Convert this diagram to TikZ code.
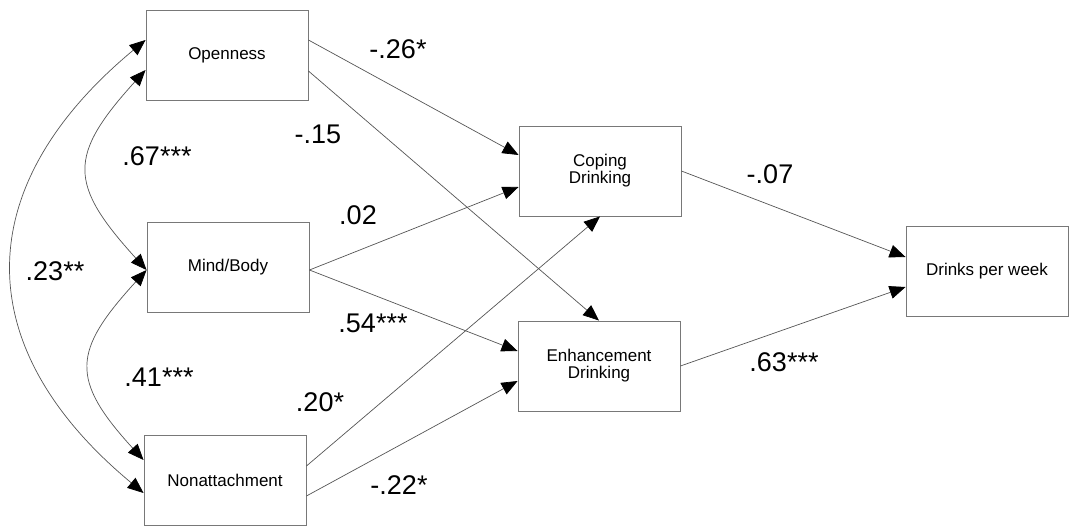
\documentclass[tikz,border=0pt]{standalone}
\usepackage{fontspec}
\setmainfont{Liberation Sans}
\usetikzlibrary{arrows.meta}
\definecolor{linec}{RGB}{85,85,85}
\definecolor{boxc}{RGB}{120,120,120}
\tikzset{
  varbox/.style={draw=boxc, line width=0.9pt, minimum width=162pt, minimum height=90pt, inner sep=0pt, align=center, font=\fontsize{17}{17}\selectfont},
  path/.style={draw=linec, line width=0.7pt, -{Triangle[length=16pt,width=13pt,color=black]}},
  cov/.style={draw=linec, line width=0.7pt, {Triangle[length=16pt,width=13pt,color=black]}-{Triangle[length=16pt,width=13pt,color=black]}},
  coef/.style={inner sep=0pt, font=\fontsize{27}{27}\selectfont}
}
\begin{document}
\begin{tikzpicture}[x=1pt,y=-1pt]
\useasboundingbox (0,0) rectangle (1069,527);
\node[varbox] (open) at (227,55) {Openness};
\node[varbox] (mind) at (228,267) {Mind/Body};
\node[varbox] (non) at (225,480) {Nonattachment};
\node[varbox] (cop) at (600,171) {Coping\\Drinking};
\node[varbox] (enh) at (599,366) {Enhancement\\Drinking};
\node[varbox] (drk) at (987,271) {Drinks per week};

\draw[path] ([yshift=15pt]open.east) -- ([yshift=16pt]cop.west);
\draw[path] ([yshift=-16pt]open.east) -- (enh.north);
\draw[path] ([yshift=-3pt]mind.east) -- ([yshift=-16pt]cop.west);
\draw[path] ([yshift=-3pt]mind.east) -- ([yshift=15pt]enh.west);
\draw[path] ([yshift=14pt]non.east) -- (cop.south);
\draw[path] ([yshift=-16pt]non.east) -- ([yshift=-15pt]enh.west);
\draw[path] (cop.east) -- ([yshift=14pt]drk.west);
\draw[path] (enh.east) -- ([yshift=-16pt]drk.west);

\draw[cov] ([yshift=-15pt]open.west) .. controls +(-78,86) and +(-78,-86) .. ([yshift=-3pt]mind.west);
\draw[cov] ([yshift=-3pt]mind.west) .. controls +(-74,81) and +(-74,-81) .. ([yshift=20pt]non.west);
\draw[cov] ([yshift=15pt]open.west) .. controls +(-176,146) and +(-176,-146) .. ([yshift=-13pt]non.west);

\node[coef] (l1) at (398,49) {-.26*};
\node[coef] (l2) at (318,134) {-.15};
\node[coef] (l3) at (157,156) {.67***};
\node[coef] (l4) at (55,271) {.23**};
\node[coef] (l5) at (358,215) {.02};
\node[coef] (l6) at (373,323) {.54***};
\node[coef] (l7) at (159,377) {.41***};
\node[coef] (l8) at (320,402) {.20*};
\node[coef] (l9) at (399,485) {-.22*};
\node[coef] (l10) at (770,174) {-.07};
\node[coef] (l11) at (784,362) {.63***};
\end{tikzpicture}
\end{document}
